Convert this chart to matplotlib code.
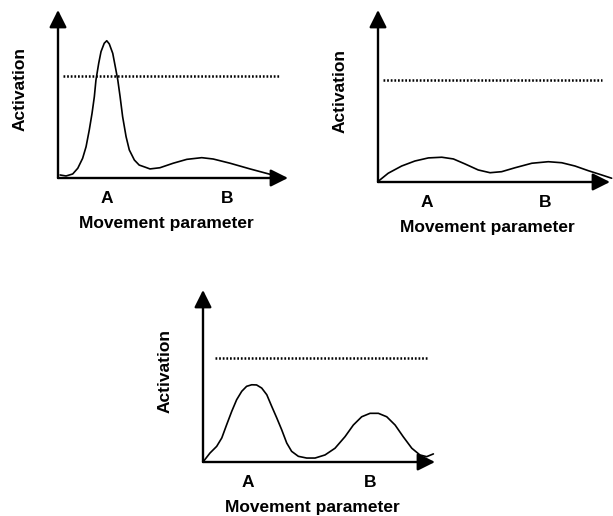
import matplotlib
matplotlib.use("Agg")
from matplotlib import pyplot as plt

plt.rcParams["font.family"] = ["Liberation Sans", "DejaVu Sans"]
plt.rcParams["font.weight"] = "bold"

# activation profiles along the movement parameter (both axes in 0..100 units)
top_left_x = [0.9, 3.5, 6.4, 8.6, 10.7, 12.2, 13.6, 14.8, 15.8, 16.5, 17.7, 18.7, 20.1,
              21.2, 22.3, 23.8, 24.9, 26.0, 27.0, 28.1, 29.6, 31.0, 33.2, 35.3, 38.0,
              40.0, 44.3, 50.1, 56.0, 62.5, 67.5, 74.8, 83.5, 92.2, 98.0]
top_left_y = [1.8, 1.2, 2.4, 5.8, 11.7, 18.6, 28.6, 38.5, 48.4, 58.3, 68.3, 75.2, 80.2,
              81.7, 79.8, 74.2, 66.3, 58.3, 48.4, 36.5, 24.6, 16.7, 10.7, 7.7, 6.4,
              5.4, 6.1, 8.8, 11.1, 12.1, 11.3, 8.8, 5.4, 2.2, 0.0]

top_right_x = [0, 4.4, 10.2, 15.9, 21.7, 27.5, 32.5, 37.5, 43.2, 48.3, 53.3, 59.1, 66.3,
               73.4, 79.2, 84.9, 90.6, 96.4, 100.7]
top_right_y = [0.3, 5.1, 9.3, 12.2, 14.0, 14.4, 13.4, 10.5, 7.0, 5.4, 6.0, 8.3, 10.9,
               11.8, 11.2, 9.3, 6.6, 4.1, 2.2]

bottom_x = [0, 3.0, 5.9, 8.1, 10.2, 12.4, 14.5, 16.7, 18.8, 21.0, 23.1, 25.3, 27.5, 29.6,
            31.8, 33.9, 36.1, 38.2, 41.1, 44.7, 48.3, 52.6, 56.9, 61.2, 64.8, 68.4,
            72.0, 75.6, 79.2, 82.8, 86.3, 90.0, 93.5, 96.4, 99.3]
bottom_y = [0, 5.2, 9.1, 14.0, 21.7, 29.5, 36.2, 41.1, 44.0, 44.9, 44.8, 43.0, 39.1,
            32.4, 25.6, 18.8, 11.0, 6.2, 3.3, 2.3, 2.3, 4.1, 8.0, 14.7, 21.5, 26.3,
            28.3, 28.3, 26.3, 21.5, 14.7, 8.0, 4.1, 3.1, 4.7]

thresholds = [60.7, 59.3, 60.5]
threshold_spans = [(2.2, 96.5), (2.2, 96.6), (5.2, 96.6)]
tick_names = ["A", "B"]
tick_pos = [(21.3, 73.5), (21.1, 72.0), (19.4, 72.0)]

W, H = 613, 516
fig = plt.figure(figsize=(W / 100, H / 100), dpi=100)

# axes boxes in pixels: origin x, origin y, right tip x, top tip y
boxes = [(58, 178, 288, 10), (378, 182, 610, 10), (203, 462, 435, 290)]
curves = [(top_left_x, top_left_y), (top_right_x, top_right_y), (bottom_x, bottom_y)]

for i, (x0, y0, x1, y1) in enumerate(boxes):
    ax = fig.add_axes([x0 / W, (H - y0) / H, (x1 - x0) / W, (y0 - y1) / H])
    ax.set_xlim(0, 100)
    ax.set_ylim(0, 100)
    ax.axis("off")

    for end in [(100, 0), (0, 100)]:
        ax.annotate("", xy=end, xytext=(0, 0),
                    arrowprops=dict(arrowstyle="-|>,head_length=0.7,head_width=0.35",
                                    lw=1.7, color="black", shrinkA=0, shrinkB=0,
                                    mutation_scale=15),
                    annotation_clip=False)

    xs, ys = curves[i]
    ax.plot(xs, ys, color="black", lw=1.2, clip_on=False,
            solid_joinstyle="round", solid_capstyle="round")

    a, b = threshold_spans[i]
    ax.plot([a, b], [thresholds[i], thresholds[i]], color="black", lw=1.8,
            linestyle=(0, (0.7, 0.75)))

    for name, xp in zip(tick_names, tick_pos[i]):
        ax.annotate(name, xy=(xp, 0), xycoords=("data", "axes fraction"),
                    xytext=(0, -18), textcoords="offset points",
                    ha="center", va="baseline", fontsize=12.5, fontweight="bold")

    ax.annotate("Movement parameter", xy=(0.47, 0), xycoords="axes fraction",
                xytext=(0, -36), textcoords="offset points",
                ha="center", va="baseline", fontsize=12.5, fontweight="bold")
    ax.annotate("Activation", xy=(0, 0.53), xycoords="axes fraction",
                xytext=(-21.6, 0), textcoords="offset points", rotation=90,
                ha="right", va="center", fontsize=12.5, fontweight="bold")

plt.savefig("out.png", dpi=100)
